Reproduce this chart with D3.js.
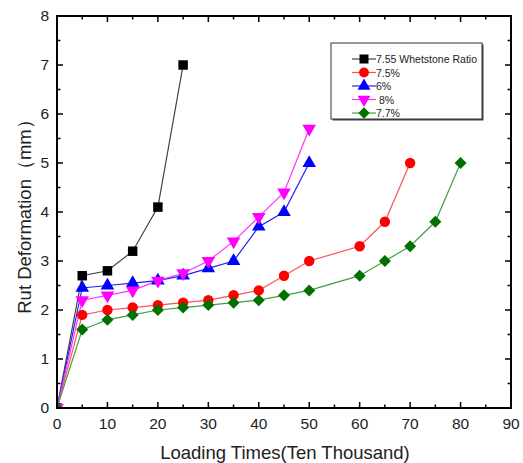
<!DOCTYPE html>
<html>
<head>
<meta charset="utf-8">
<script src="https://cdn.jsdelivr.net/npm/d3@7"></script>
<style>
  body { margin: 0; background: #fff; }
  text { font-family: Arial, "Liberation Sans", sans-serif; }
</style>
</head>
<body>
<div id="chart"></div>
<script>
// data
const seriesNames = ["7.55 Whetstone Ratio", "7.5%", "6%", " 8%", "7.7%"];
const blackX = [0, 5, 10, 15, 20, 25];
const blackY = [0, 2.7, 2.8, 3.2, 4.1, 7.0];
const redX = [0, 5, 10, 15, 20, 25, 30, 35, 40, 45, 50, 60, 65, 70];
const redY = [0, 1.9, 2.0, 2.05, 2.1, 2.15, 2.2, 2.3, 2.4, 2.7, 3.0, 3.3, 3.8, 5.0];
const blueX = [0, 5, 10, 15, 20, 25, 30, 35, 40, 45, 50];
const blueY = [0, 2.45, 2.5, 2.55, 2.6, 2.7, 2.85, 3.0, 3.7, 4.0, 5.0];
const magentaX = [0, 5, 10, 15, 20, 25, 30, 35, 40, 45, 50];
const magentaY = [0, 2.2, 2.3, 2.4, 2.6, 2.75, 3.0, 3.4, 3.9, 4.4, 5.7];
const greenX = [0, 5, 10, 15, 20, 25, 30, 35, 40, 45, 50, 60, 65, 70, 75, 80];
const greenY = [0, 1.6, 1.8, 1.9, 2.0, 2.05, 2.1, 2.15, 2.2, 2.3, 2.4, 2.7, 3.0, 3.3, 3.8, 5.0];
const xTicks = [0, 10, 20, 30, 40, 50, 60, 70, 80, 90];
const yTicks = [0, 1, 2, 3, 4, 5, 6, 7, 8];

const W = 523, H = 463;
const MARGIN = { TOP: 16, BOTTOM: 55, LEFT: 57, RIGHT: 12 };
const WIDTH = W - MARGIN.LEFT - MARGIN.RIGHT;
const HEIGHT = H - MARGIN.TOP - MARGIN.BOTTOM;

const series = [
  { name: seriesNames[0], xs: blackX, ys: blackY, line: "#404040", fill: "#000", shape: d3.symbolSquare, size: 90, rot: 0 },
  { name: seriesNames[1], xs: redX, ys: redY, line: "#ff5050", fill: "#ff0000", shape: d3.symbolCircle, size: 85, rot: 0 },
  { name: seriesNames[2], xs: blueX, ys: blueY, line: "#2020ff", fill: "#0000ff", shape: d3.symbolTriangle, size: 80, rot: 0 },
  { name: seriesNames[3], xs: magentaX, ys: magentaY, line: "#ff30ff", fill: "#ff00ff", shape: d3.symbolTriangle, size: 80, rot: 180 },
  { name: seriesNames[4], xs: greenX, ys: greenY, line: "#40a040", fill: "#007000", shape: d3.symbolSquare, size: 72, rot: 45 }
];

const svg = d3.select("#chart").append("svg")
  .attr("width", W).attr("height", H);

const g = svg.append("g")
  .attr("transform", `translate(${MARGIN.LEFT}, ${MARGIN.TOP})`);

const x = d3.scaleLinear().domain([0, 90]).range([0, WIDTH]);
const y = d3.scaleLinear().domain([0, 8]).range([HEIGHT, 0]);

svg.append("defs").append("clipPath").attr("id", "clip")
  .append("rect").attr("width", WIDTH).attr("height", HEIGHT);

// ticks (inside, on all four sides)
const xMinor = d3.range(5, 90, 10);
const yMinor = d3.range(0.5, 8, 1);
function ticks(sel, axis, values, len) {
  values.forEach(v => {
    if (axis === "x") {
      sel.append("line").attr("x1", x(v)).attr("x2", x(v)).attr("y1", HEIGHT).attr("y2", HEIGHT - len);
      sel.append("line").attr("x1", x(v)).attr("x2", x(v)).attr("y1", 0).attr("y2", len);
    } else {
      sel.append("line").attr("y1", y(v)).attr("y2", y(v)).attr("x1", 0).attr("x2", len);
      sel.append("line").attr("y1", y(v)).attr("y2", y(v)).attr("x1", WIDTH).attr("x2", WIDTH - len);
    }
  });
}
const tg = g.append("g").attr("stroke", "#000").attr("stroke-width", 1.5);
ticks(tg, "x", xTicks, 6);
ticks(tg, "x", xMinor, 3.5);
ticks(tg, "y", yTicks, 6);
ticks(tg, "y", yMinor, 3.5);

// tick labels
g.selectAll(".xl").data(xTicks).enter().append("text")
  .attr("x", d => x(d)).attr("y", HEIGHT + 21)
  .attr("text-anchor", "middle").attr("font-size", 15.5).attr("fill", "#222")
  .text(d => d);
g.selectAll(".yl").data(yTicks).enter().append("text")
  .attr("x", -8).attr("y", d => y(d) + 5)
  .attr("text-anchor", "end").attr("font-size", 15.5).attr("fill", "#222")
  .text(d => d);

// series
const plot = g.append("g").attr("clip-path", "url(#clip)");
const line = d3.line().x(d => x(d[0])).y(d => y(d[1]));
series.forEach(s => {
  const pts = s.xs.map((v, i) => [v, s.ys[i]]);
  plot.append("path").datum(pts)
    .attr("d", line).attr("fill", "none")
    .attr("stroke", s.line).attr("stroke-width", 1.2);
});
series.forEach(s => {
  const pts = s.xs.map((v, i) => [v, s.ys[i]]);
  plot.selectAll(null).data(pts).enter().append("path")
    .attr("d", d3.symbol().type(s.shape).size(s.size))
    .attr("transform", d => `translate(${x(d[0])}, ${y(d[1])}) rotate(${s.rot})`)
    .attr("fill", s.fill);
});

// frame
g.append("rect").attr("width", WIDTH).attr("height", HEIGHT)
  .attr("fill", "none").attr("stroke", "#000").attr("stroke-width", 2);

// axis titles
g.append("text")
  .attr("x", WIDTH / 2 + 1).attr("y", HEIGHT + 51)
  .attr("text-anchor", "middle").attr("font-size", 18.5).attr("fill", "#222")
  .text("Loading Times(Ten Thousand)");
g.append("text")
  .attr("transform", `translate(-26, ${HEIGHT / 2}) rotate(-90)`)
  .attr("text-anchor", "middle").attr("font-size", 18.5).attr("fill", "#222")
  .text("Rut Deformation（mm）");

// legend
const lg = svg.append("g").attr("transform", "translate(331, 43)");
lg.append("rect").attr("x", 1.5).attr("y", 1.5).attr("width", 151).attr("height", 76).attr("fill", "#444");
lg.append("rect").attr("width", 151).attr("height", 76).attr("fill", "#fff")
  .attr("stroke", "#333").attr("stroke-width", 1);
series.forEach((s, i) => {
  const ry = 16 + i * 13.5;
  lg.append("line").attr("x1", 21).attr("x2", 45).attr("y1", ry).attr("y2", ry)
    .attr("stroke", s.line).attr("stroke-width", 1.2);
  lg.append("path")
    .attr("d", d3.symbol().type(s.shape).size(s.size * 0.9))
    .attr("transform", `translate(33, ${ry}) rotate(${s.rot})`)
    .attr("fill", s.fill);
  lg.append("text").attr("x", 45).attr("y", ry + 4)
    .attr("font-size", 10.5).attr("fill", "#222")
    .style("white-space", "pre")
    .text(s.name);
});
</script>
</body>
</html>
